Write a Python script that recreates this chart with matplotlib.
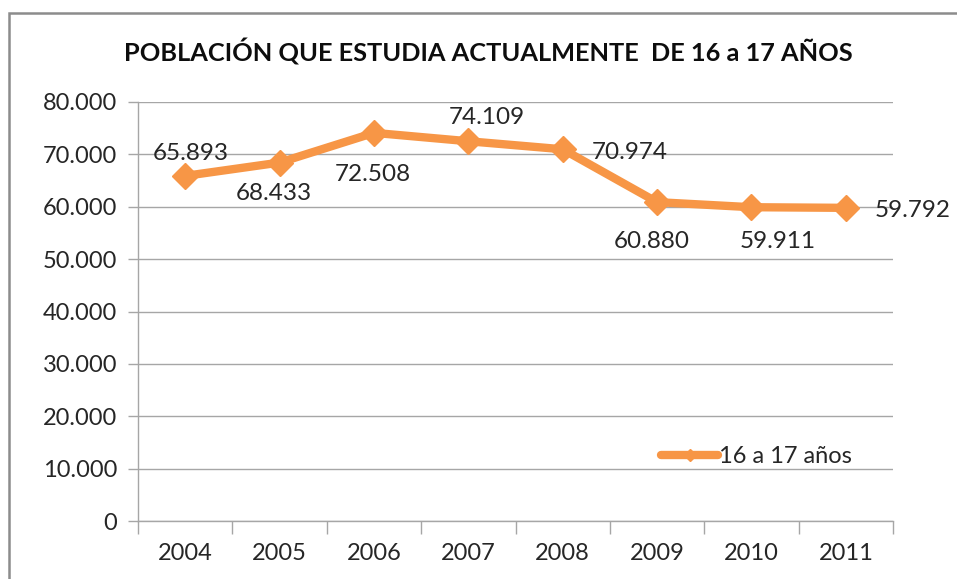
import matplotlib
matplotlib.use("Agg")
import matplotlib.pyplot as plt
from matplotlib.patches import Rectangle
from matplotlib.ticker import FixedLocator, FuncFormatter

years = ["2004", "2005", "2006", "2007", "2008", "2009", "2010", "2011"]
values = [65893, 68433, 74109, 72508, 70974, 60880, 59911, 59792]
value_labels = ["65.893", "68.433", "72.508", "74.109", "70.974", "60.880", "59.911", "59.792"]
series_name = "16 a 17 años"
title = "POBLACIÓN QUE ESTUDIA ACTUALMENTE  DE 16 a 17 AÑOS"

# label offsets (points) relative to each marker
label_offsets = [(4, 16), (-4, -22), (-1, -30), (13, 17), (48, -2), (-4, -28), (19, -25), (48, -2)]

ORANGE = "#F79646"
GRID = "#A6A6A6"
FONT = ["Lato", "DejaVu Sans"]

plt.rcParams["font.family"] = FONT

fig = plt.figure(figsize=(9.57, 5.79), dpi=100)
fig.patches.append(Rectangle((9 / 957, -0.1), 1.2, 1.1 - 13 / 579,
                             transform=fig.transFigure, fill=False,
                             edgecolor="#8C8C8C", linewidth=1.8))

ax = fig.add_axes([138 / 957, 1 - 521 / 579, (893 - 138) / 957, (521 - 102) / 579])

x = list(range(len(years)))
ax.plot(x, values, color=ORANGE, linewidth=6, marker="D", markersize=13,
        markeredgecolor=ORANGE, solid_joinstyle="round", solid_capstyle="round",
        label=series_name, zorder=3)

for xi, v, txt, off in zip(x, values, value_labels, label_offsets):
    ax.annotate(txt, (xi, v), xytext=off, textcoords="offset points",
                ha="center", va="center", fontsize=17.5, color="#262626")

ax.set_xlim(-0.5, len(years) - 0.5)
ax.set_ylim(0, 80000)
ax.set_yticks(range(0, 80001, 10000))
ax.yaxis.set_major_formatter(FuncFormatter(lambda v, p: f"{int(v):,}".replace(",", ".")))
ax.set_xticks(x)
ax.set_xticklabels(years)
ax.xaxis.set_minor_locator(FixedLocator([i - 0.5 for i in range(len(years) + 1)]))
ax.tick_params(axis="x", which="major", length=0, pad=16, labelsize=17, labelcolor="#262626")
ax.tick_params(axis="x", which="minor", length=9, width=1, color=GRID)
ax.tick_params(axis="y", length=7, width=1, color=GRID, pad=8, labelsize=17, labelcolor="#262626")

ax.grid(axis="y", color=GRID, linewidth=1)
ax.set_axisbelow(True)
for s in ("top", "right"):
    ax.spines[s].set_visible(False)
for s in ("left", "bottom"):
    ax.spines[s].set_color(GRID)
    ax.spines[s].set_linewidth(1)

leg = ax.legend(loc="center left", bbox_to_anchor=(0.693, 0.153), frameon=False,
                fontsize=17, handlelength=2.4, handletextpad=0.05, borderpad=0,
                borderaxespad=0, markerscale=0.5)
for t in leg.get_texts():
    t.set_color("#262626")

fig.text(488 / 957, 1 - 52 / 579, title, ha="center", va="center",
         fontsize=18.3, fontweight="bold", color="#0D0D0D")

fig.savefig("out.png", dpi=100)
